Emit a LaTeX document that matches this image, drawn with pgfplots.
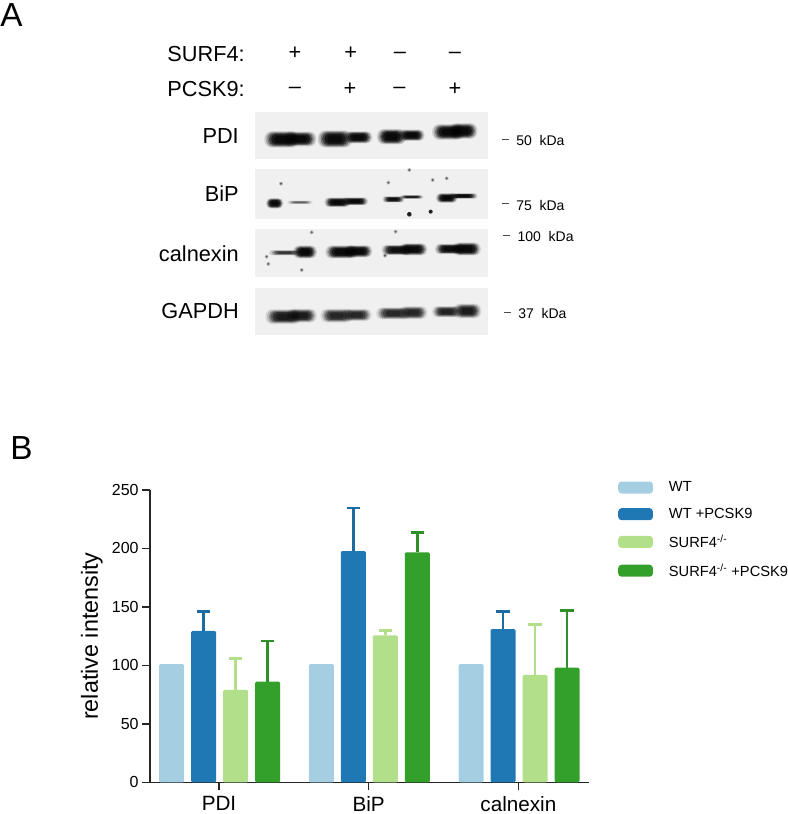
\documentclass[border=0pt]{standalone}
\usepackage{pgfplots}
\pgfplotsset{compat=1.18}
\usepackage{pgfplotstable}
\usepackage{fontspec}
\setmainfont{Liberation Sans}
\definecolor{wtl}{HTML}{A6CEE3}
\definecolor{wtd}{HTML}{1F78B4}
\definecolor{sfl}{HTML}{B2DF8A}
\definecolor{sfd}{HTML}{33A02C}
\pgfplotstableread{
x wt wtp wtpe sf sfe sfp sfpe
0 101 129.4 16.6 79 27 86 35
1 101 197.8 36.8 125.7 4.3 196.7 17.1
2 101 131 15 91.8 43.2 98 49
}\datatab
% soft blot band, in zoomed reference units
\newcommand\blob[5]{\foreach \k/\o in {1.3/.12,1.18/.2,1.06/.3,.94/.45,.78/.6,.55/.6}{\pgfmathsetlengthmacro\rc{#4*\k*0.22pt}\fill[black,fill opacity=#5*\o,rounded corners=\rc] (#1-#3*1.25*\k,#2-#4*\k) rectangle (#1+#3*1.25*\k,#2+#4*\k);}}
\newcommand\speck[2]{\fill[black,fill opacity=.2] (#1,#2) circle (6);\fill[black,fill opacity=.5] (#1,#2) circle (3.5);}
\newcommand\legimg[1]{\addlegendimage{legend image code/.code={\fill[#1,rounded corners=2.5pt] (0pt,-4.5pt) rectangle (26pt,4.5pt);\path (38pt,0pt);}}}
\begin{document}
\begin{tikzpicture}
\path[use as bounding box] (0,0) rectangle (591pt,610.5pt);
% panel letters
\node[anchor=base west,inner sep=0,font=\fontsize{25}{25}\selectfont] at (0pt,590.5pt) {A};
\node[anchor=base west,inner sep=0,font=\fontsize{25}{25}\selectfont] at (7.5pt,265.5pt) {B};
% blot, coordinates = zoom pixels of the panel
\begin{scope}[shift={(97.5pt,588pt)},x=.25pt,y=-.25pt]
\foreach \a/\b in {247/387,418/567,598/741,773/915}{\fill[black!6] (375,\a) rectangle (1075,\b);}
% PDI
\blob{455}{328}{32}{19}{1}\blob{510}{327}{30}{17}{1}
\blob{615}{327}{32}{20}{1}\blob{685}{322}{26}{14}{1}
\blob{785}{320}{27}{18}{1}\blob{845}{316}{24}{13}{1}
\blob{955}{306}{30}{18}{1}\blob{1000}{303}{26}{18}{1}
% BiP
\blob{434}{520}{16}{12}{1}\blob{510}{517}{24}{4}{.35}
\blob{622}{517}{24}{11}{1}\blob{675}{514}{24}{9}{1}
\blob{790}{508}{20}{7}{.9}\blob{845}{501}{22}{4}{.8}
\blob{950}{504}{20}{11}{1}\blob{1000}{498}{26}{6}{1}
\speck{453}{461}\speck{775}{458}\speck{838}{552}\speck{902}{545}\speck{838}{420}\speck{908}{450}\speck{950}{445}
\fill[black,fill opacity=.8] (838,553) circle (7);\fill[black,fill opacity=.8] (902,545) circle (6);
% calnexin
\blob{465}{668}{30}{6}{.55}\blob{525}{666}{22}{15}{1}
\blob{635}{666}{30}{15}{1}\blob{685}{664}{26}{14}{1}
\blob{800}{660}{28}{12}{.9}\blob{850}{658}{26}{14}{1}
\blob{960}{657}{28}{12}{.95}\blob{1010}{657}{26}{15}{1}
\speck{410}{680}\speck{765}{677}\speck{797}{605}\speck{515}{720}\speck{545}{607}\speck{415}{702}
% GAPDH
\blob{460}{860}{33}{17}{.75}\blob{515}{857}{28}{16}{.75}
\blob{620}{857}{30}{16}{.65}\blob{680}{855}{28}{14}{.65}
\blob{790}{850}{32}{14}{.65}\blob{850}{848}{26}{15}{.65}
\blob{950}{845}{27}{13}{.7}\blob{1012}{843}{26}{17}{.75}
% labels
\begin{scope}[every node/.style={inner sep=0,font=\fontsize{16.3}{16.3}\selectfont}]
\node[anchor=base east] at (345,95) {SURF4:};
\node[anchor=base east] at (345,199) {PCSK9:};
\node[anchor=base east] at (327,342) {PDI};
\node[anchor=base east] at (327,516) {BiP};
\node[anchor=base east] at (327,694) {calnexin};
\node[anchor=base east] at (327,865) {GAPDH};
\node at (495,70) {+};\node at (662,70) {+};\node at (810,75) {–};\node at (975,75) {–};
\node at (495,180) {–};\node at (660,177) {+};\node at (808,180) {–};\node at (975,177) {+};
\end{scope}
\begin{scope}[every node/.style={inner sep=0,anchor=base west,font=\fontsize{10.5}{10.5}\selectfont}]
\node at (1158,348) {50\hspace{.55em}kDa};
\node at (1158,541) {75\hspace{.55em}kDa};
\node at (1162,635) {100\hspace{.55em}kDa};
\node at (1164,866) {37\hspace{.55em}kDa};
\end{scope}
\foreach \a/\b/\c in {1115/1137/328,1115/1137/521,1118/1140/616,1123/1143/848}{\draw[line width=.6pt,black!70] (\a,\c)--(\b,\c);}
\end{scope}
\begin{axis}[
  anchor=south west, at={(112.5pt,23.8pt)},
  scale only axis, width=329.25pt, height=219.2pt,
  xmin=-0.461, xmax=2.472, ymin=0, ymax=250,
  axis x line=bottom, axis y line=left, axis line style={-,line width=1.1pt,black!85},
  clip=false,
  xtick=data, xticklabels={PDI,BiP,calnexin},
  ytick={0,50,100,150,200,250},
  tick style={line width=1.1pt,black!85},
  tick align=outside, major tick length=6pt,
  xtick pos=lower, ytick pos=left,
  /pgf/number format/assume math mode=true,
  yticklabel style={font=\fontsize{12}{12}\selectfont,xshift=1pt},
  xticklabel style={font=\fontsize{15.5}{15.5}\selectfont,yshift=-1pt},
  ylabel={relative intensity},
  ylabel style={font=\fontsize{17.5}{17.5}\selectfont},
  legend style={at={(1.066,1.03)},anchor=north west,draw=none,fill=none,inner sep=0pt,
    font=\fontsize{11}{11}\selectfont,row sep=11pt,
    nodes={inner sep=0pt,text depth=.2ex}},
  legend cell align=left,
  every axis plot/.append style={draw=none,bar width=18.75pt,rounded corners=1pt,bar shift=0pt},
]
\addplot[forget plot,ybar,xshift=-35.5pt,fill=wtl]
  table[x=x,y=wt] {\datatab};
\addplot[forget plot,ybar,xshift=-11.5pt,fill=wtd,
  error bars/.cd,y dir=plus,y explicit,error bar style={draw=wtd!90!black,line width=2.2pt,rounded corners=0pt},
  error mark options={rotate=90,mark size=5pt,line width=1.9pt,draw=wtd!90!black}]
  table[x=x,y=wtp,y error=wtpe] {\datatab};
\addplot[forget plot,ybar,xshift=12.5pt,fill=sfl,
  error bars/.cd,y dir=plus,y explicit,error bar style={draw=sfl,line width=2.2pt,rounded corners=0pt},
  error mark options={rotate=90,mark size=5pt,line width=1.9pt,draw=sfl}]
  table[x=x,y=sf,y error=sfe] {\datatab};
\addplot[forget plot,ybar,xshift=36.5pt,fill=sfd,
  error bars/.cd,y dir=plus,y explicit,error bar style={draw=sfd!90!black,line width=2.2pt,rounded corners=0pt},
  error mark options={rotate=90,mark size=5pt,line width=1.9pt,draw=sfd!90!black}]
  table[x=x,y=sfp,y error=sfpe] {\datatab};
\legimg{wtl}\addlegendentry{WT}
\legimg{wtd}\addlegendentry{WT +PCSK9}
\legimg{sfl}\addlegendentry{SURF4\textsuperscript{-/-}}
\legimg{sfd}\addlegendentry{SURF4\textsuperscript{-/-} +PCSK9}
\end{axis}
\end{tikzpicture}
\end{document}
